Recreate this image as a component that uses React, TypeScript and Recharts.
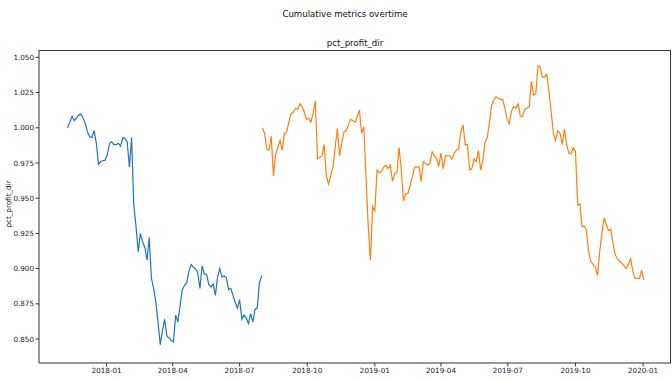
import React from 'react';
import { LineChart, Line, XAxis, YAxis } from 'recharts';

// ---- data ----
const STEP_DAYS = 3;
const blueStart = '2017-11-09';
const orangeStart = '2018-08-01';

const blueValues = [
  1.000, 1.004, 1.008, 1.005, 1.007, 1.009, 1.0097, 1.007, 1.003, 0.997,
  0.9936, 0.993, 0.998, 0.989, 0.974, 0.976, 0.9766, 0.977, 0.981, 0.989,
  0.990, 0.988, 0.988, 0.989, 0.987, 0.993, 0.9925, 0.990, 0.972, 0.993,
  0.945, 0.930, 0.912, 0.925, 0.919, 0.915, 0.906, 0.922, 0.893, 0.886,
  0.876, 0.862, 0.846, 0.856, 0.864, 0.852, 0.851, 0.849, 0.848, 0.867,
  0.862, 0.874, 0.885, 0.888, 0.890, 0.898, 0.903, 0.901, 0.900, 0.897,
  0.886, 0.902, 0.896, 0.896, 0.889, 0.887, 0.889, 0.881, 0.894, 0.900,
  0.894, 0.895, 0.8935, 0.885, 0.886, 0.881, 0.876, 0.872, 0.878, 0.864,
  0.867, 0.865, 0.861, 0.868, 0.862, 0.871, 0.872, 0.890, 0.895,
];

const orangeValues = [
  1.000, 0.996, 0.985, 0.984, 0.994, 0.966, 0.981, 0.986, 0.991, 0.984,
  0.996, 0.997, 1.004, 1.010, 1.011, 1.0138, 1.013, 1.017, 1.015, 1.011,
  1.006, 1.0067, 1.004, 1.010, 1.019, 0.978, 0.979, 0.980, 0.988, 0.966,
  0.960, 0.966, 0.972, 0.986, 0.9995, 0.980, 0.989, 0.997, 0.998, 1.002,
  1.006, 1.005, 1.004, 1.008, 1.0126, 0.996, 1.0007, 0.965, 0.930, 0.906,
  0.944, 0.941, 0.970, 0.968, 0.969, 0.972, 0.9735, 0.971, 0.9735, 0.962,
  0.9676, 0.968, 0.986, 0.970, 0.948, 0.953, 0.9534, 0.959, 0.965, 0.972,
  0.972, 0.9723, 0.962, 0.976, 0.9747, 0.9735, 0.975, 0.983, 0.980, 0.978,
  0.9725, 0.982, 0.971, 0.980, 0.980, 0.980, 0.978, 0.982, 0.984, 0.985,
  0.997, 1.002, 0.988, 0.988, 0.970, 0.971, 0.978, 0.976, 0.984, 0.970,
  0.977, 0.990, 0.993, 1.004, 1.016, 1.020, 1.022, 1.021, 1.020, 1.020,
  1.014, 1.006, 1.003, 1.012, 1.015, 1.014, 1.017, 1.008, 1.008, 1.013,
  1.0138, 1.015, 1.033, 1.023, 1.024, 1.044, 1.043, 1.036, 1.036, 1.038,
  1.025, 1.011, 0.996, 0.991, 0.998, 0.996, 0.988, 0.999, 0.988, 0.982,
  0.9815, 0.986, 0.983, 0.945, 0.946, 0.930, 0.930, 0.927, 0.912, 0.905,
  0.903, 0.901, 0.895, 0.912, 0.925, 0.936, 0.931, 0.927, 0.928, 0.918,
  0.910, 0.907, 0.905, 0.904, 0.902, 0.900, 0.903, 0.907, 0.898, 0.893,
  0.893, 0.893, 0.899, 0.892,
];

const xTickLabels = [
  '2018-01', '2018-04', '2018-07', '2018-10',
  '2019-01', '2019-04', '2019-07', '2019-10', '2020-01',
];
const yTicks = [0.85, 0.875, 0.9, 0.925, 0.95, 0.975, 1.0, 1.025, 1.05];
const xDomainDates = ['2017-10-01', '2020-02-08'];
const yDomain: [number, number] = [0.833, 1.0552];

// ---- helpers ----
const DAY = 86400000;
const toTs = (s: string) => Date.parse(s + 'T00:00:00Z');
const buildSeries = (start: string, values: number[]) =>
  values.map((v, i) => ({ t: toTs(start) + i * STEP_DAYS * DAY, v }));

const blueData = buildSeries(blueStart, blueValues);
const orangeData = buildSeries(orangeStart, orangeValues);
const xTicks = xTickLabels.map((l) => toTs(l + '-01'));
const xDomain: [number, number] = [toTs(xDomainDates[0]), toTs(xDomainDates[1])];

const fmtX = (t: number) => {
  const d = new Date(t);
  const m = d.getUTCMonth() + 1;
  return `${d.getUTCFullYear()}-${m < 10 ? '0' + m : m}`;
};

const FONT = '"DejaVu Sans", sans-serif';
const AXIS = '#333333';

export default function App() {
  return (
    <div
      style={{
        position: 'absolute',
        left: 0,
        top: 0,
        width: 672,
        height: 381,
        background: '#fff',
        fontFamily: FONT,
      }}
    >
      <LineChart
        width={672}
        height={381}
        margin={{ top: 50, right: 1, bottom: 0, left: 0 }}
      >
        <XAxis
          dataKey="t"
          type="number"
          domain={xDomain}
          ticks={xTicks}
          tickFormatter={fmtX}
          allowDataOverflow
          height={18}
          tickSize={3.5}
          tickMargin={1.5}
          stroke={AXIS}
          tick={{ fontSize: 7.2, fill: '#222', fontFamily: FONT }}
          axisLine={{ stroke: AXIS, strokeWidth: 1 }}
        />
        <YAxis
          type="number"
          domain={yDomain}
          ticks={yTicks}
          allowDataOverflow
          width={39}
          tickSize={3.5}
          tickMargin={1.5}
          tickFormatter={(v: number) => v.toFixed(3)}
          stroke={AXIS}
          tick={{ fontSize: 7.2, fill: '#222', fontFamily: FONT }}
          axisLine={{ stroke: AXIS, strokeWidth: 1 }}
        />
        <Line
          data={blueData}
          dataKey="v"
          type="linear"
          stroke="#1f77b4"
          strokeWidth={1.2}
          dot={false}
          isAnimationActive={false}
        />
        <Line
          data={orangeData}
          dataKey="v"
          type="linear"
          stroke="#ff7f0e"
          strokeWidth={1.2}
          dot={false}
          isAnimationActive={false}
        />
      </LineChart>
      {/* top and right spines */}
      <div
        style={{
          position: 'absolute',
          left: 39,
          top: 50,
          width: 632,
          height: 1,
          background: AXIS,
        }}
      />
      <div
        style={{
          position: 'absolute',
          left: 670,
          top: 50,
          width: 1,
          height: 313,
          background: AXIS,
        }}
      />
      <div
        style={{
          position: 'absolute',
          left: 345,
          top: 13.5,
          transform: 'translate(-50%, -50%)',
          fontSize: 8.6,
          lineHeight: '10px',
          whiteSpace: 'nowrap',
          color: '#111',
        }}
      >
        Cumulative metrics overtime
      </div>
      <div
        style={{
          position: 'absolute',
          left: 355,
          top: 43,
          transform: 'translate(-50%, -50%)',
          fontSize: 8.6,
          lineHeight: '10px',
          whiteSpace: 'nowrap',
          color: '#111',
        }}
      >
        pct_profit_dir
      </div>
      <div
        style={{
          position: 'absolute',
          left: 7.5,
          top: 204,
          transform: 'translate(-50%, -50%) rotate(-90deg)',
          fontSize: 7.2,
          lineHeight: '9px',
          whiteSpace: 'nowrap',
          color: '#111',
        }}
      >
        pct_profit_dir
      </div>
    </div>
  );
}
